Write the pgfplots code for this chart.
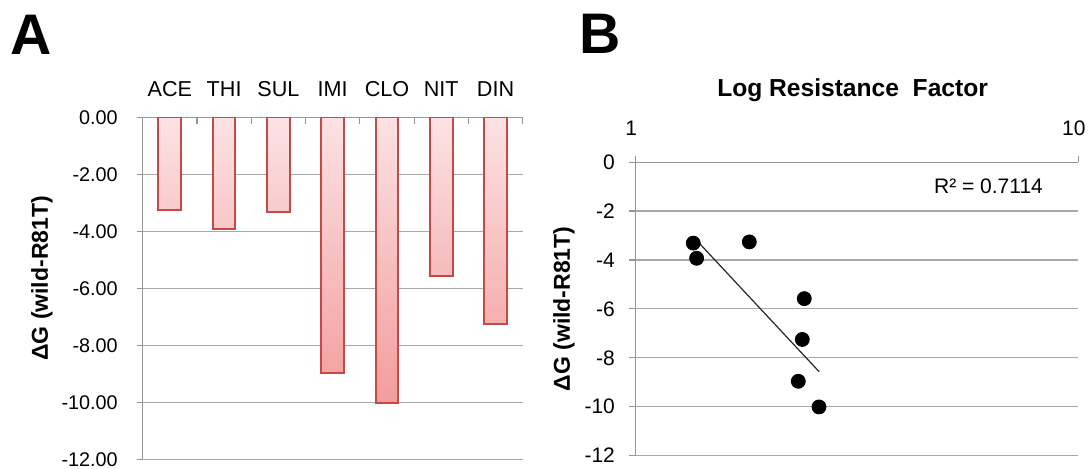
\documentclass[border=0pt]{standalone}
\usepackage{pgfplots}
\pgfplotsset{compat=1.18}
\usepackage{pgfplotstable}
\usepackage{fontspec}
\setmainfont{Liberation Sans}

\definecolor{barline}{RGB}{200,72,70}
\definecolor{bartop}{RGB}{252,226,228}
\definecolor{barbot}{RGB}{243,156,156}
\definecolor{axgray}{RGB}{150,150,150}
\definecolor{gridgray}{RGB}{168,168,168}

% panel A: Delta G per compound
\pgfplotstableread{
x name dg
0 ACE -3.26
1 THI -3.93
2 SUL -3.31
3 IMI -8.96
4 CLO -10.01
5 NIT -5.58
6 DIN -7.25
}\bardata

% panel B: resistance factor vs Delta G
\pgfplotstableread{
rf dg
1.806 -3.26
1.373 -3.93
1.349 -3.31
2.330 -8.96
2.595 -10.01
2.404 -5.58
2.379 -7.25
}\scatterdata

\begin{document}
\begin{tikzpicture}
\path[use as bounding box] (0,0) rectangle (545.5pt,234.5pt);

\node[anchor=base west, inner sep=0, font=\fontsize{28.6}{30}\selectfont\bfseries] at (5pt,207pt) {A};
\node[anchor=base west, inner sep=0, font=\fontsize{28.6}{30}\selectfont\bfseries] at (289.5pt,207.5pt) {B};

\begin{axis}[
    at={(71.35pt,4.85pt)}, anchor=south west,
    scale only axis, width=190pt, height=171pt,
    xmin=-0.5, xmax=6.5, ymin=-12, ymax=0,
    axis x line*=top, axis y line*=left,
    axis line style={axgray, line width=0.6pt},
    xtick={0,...,6},
    xticklabels from table={\bardata}{name},
    minor xtick={-0.5,0.5,...,6.5},
    major x tick style={draw=none},
    minor x tick style={axgray, line width=0.6pt},
    xtick align=inside, ytick align=outside,
    major tick length=2.7pt, minor tick length=3.2pt,
    ytick={-12,-10,...,0},
    y tick style={axgray, line width=0.6pt},
    ymajorgrids,
    major grid style={gridgray, line width=0.6pt},
    xticklabel style={font=\fontsize{10.8}{12}\selectfont, anchor=base, inner sep=0pt, yshift=10.15pt},
    yticklabel style={font=\fontsize{9.9}{11}\selectfont, anchor=east, inner sep=0pt, xshift=-9.6pt,
        /pgf/number format/.cd, fixed, fixed zerofill, precision=2, assume math mode=true},
    ylabel={ΔG (wild-R81T)},
    ylabel style={at={(-0.265,0.529)}, anchor=center, font=\fontsize{11.5}{13}\selectfont\bfseries},
]
\addplot[ybar, bar width=11.35pt, draw=barline, line width=1pt,
    top color=bartop, bottom color=barbot]
    table[x=x, y=dg] {\bardata};
\end{axis}

\begin{axis}[
    at={(317.85pt,6.7pt)}, anchor=south west,
    scale only axis, width=221.3pt, height=146.7pt,
    xmode=log, log basis x=10,
    xmin=1, xmax=10, ymin=-12, ymax=0,
    axis x line*=top, axis y line*=left,
    axis line style={axgray, line width=0.6pt},
    xtick={1,10}, xticklabels={1,10}, xminorticks=false,
    ytick={-12,-10,...,0},
    tick align=outside, major tick length=3.2pt,
    tick style={axgray, line width=0.6pt},
    ymajorgrids,
    major grid style={gridgray, line width=0.6pt},
    xticklabel style={font=\fontsize{10.5}{12}\selectfont, anchor=base, inner sep=0pt, yshift=10.25pt, xshift=-2.2pt},
    yticklabel style={font=\fontsize{10.5}{12}\selectfont, anchor=east, inner sep=0pt, xshift=-7pt,
        /pgf/number format/assume math mode=true},
    ylabel={ΔG (wild-R81T)},
    ylabel style={at={(-0.162,0.5)}, anchor=center, font=\fontsize{11.5}{13}\selectfont\bfseries},
    title={Log Resistance~~Factor},
    every axis title shift=0pt,
    title style={at={(0.49,1)}, anchor=base, yshift=32.6pt, font=\fontsize{12.3}{14}\selectfont\bfseries},
]
\addplot[only marks, mark=*, mark size=3.5pt, black] table[x=rf, y=dg] {\scatterdata};
\addplot[black!85, line width=0.6pt, no marks] coordinates {(1.349,-3.05) (2.597,-8.57)};
\end{axis}

\node[anchor=base east, inner sep=0, font=\fontsize{10.5}{12}\selectfont] at (521.65pt,137.5pt) {R² = 0.7114};
\end{tikzpicture}
\end{document}
